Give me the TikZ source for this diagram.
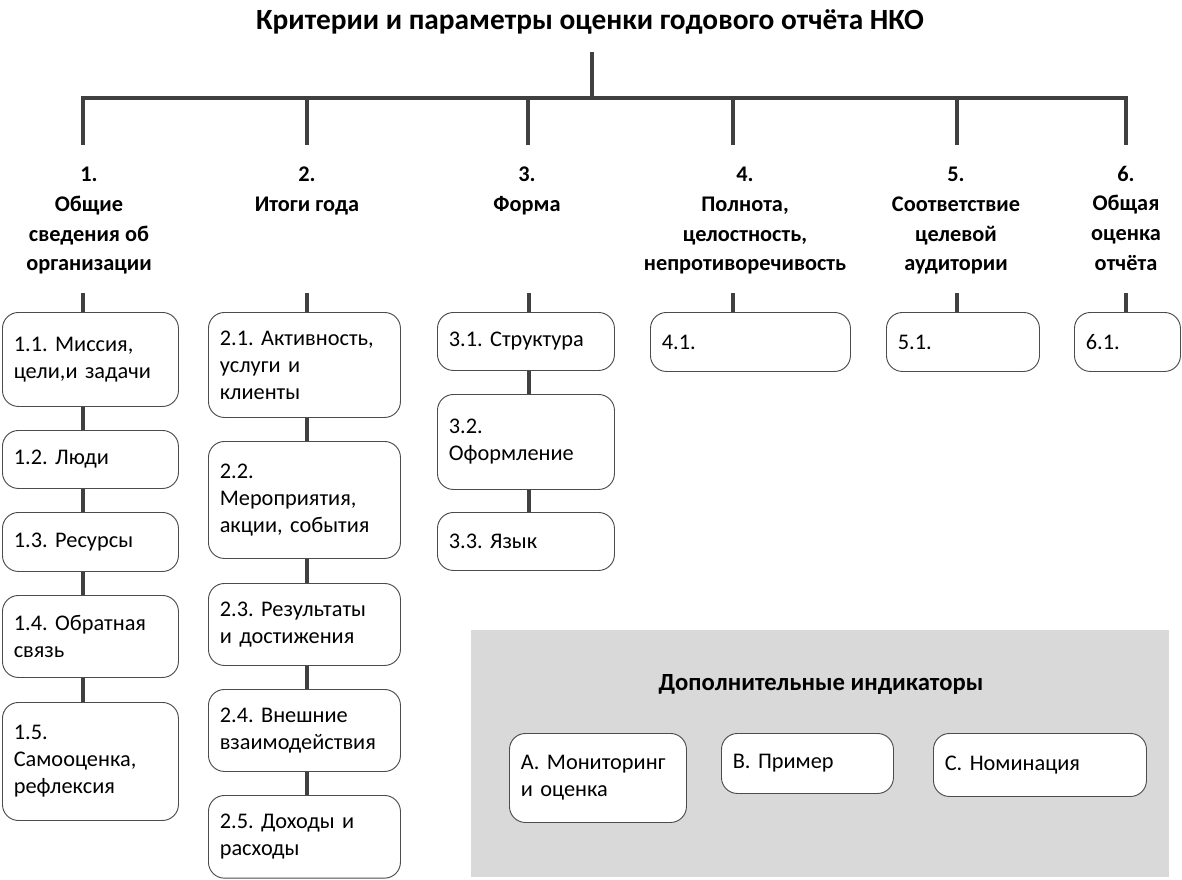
\documentclass[tikz,border=0pt]{standalone}
\usepackage{fontspec}
\setmainfont{Carlito}
\frenchspacing
\begin{document}
\begin{tikzpicture}[x=0.75pt,y=-0.75pt,
  conn/.style={draw=black!75,line width=3.5pt},
  bx/.style={draw=black!70,line width=0.7pt,fill=white,rounded corners=12pt,
    anchor=north west,inner xsep=8.5pt,inner ysep=0pt,align=left,
    font=\fontsize{16.75}{20.25}\selectfont\frenchspacing},
  head/.style={anchor=north,inner sep=0pt,align=center,
    font=\fontsize{16.75}{22.25}\selectfont\bfseries},
  panel/.style={fill=black!15,draw=none}]
\useasboundingbox (0,0) rectangle (1182,879);

% title
\node[font=\fontsize{22}{26}\selectfont\bfseries] (title) at (590,22)
  {Критерии и параметры оценки годового отчёта НКО};

% headings
\node[head] (h1) at (89,167) {1.\\Общие\\сведения об\\организации};
\node[head] (h2) at (307,167) {2.\\Итоги года};
\node[head] (h3) at (527,167) {3.\\Форма};
\node[head] (h4) at (745,167) {4.\\Полнота,\\целостность,\\непротиворечивость};
\node[head] (h5) at (956,167) {5.\\Соответствие\\целевой\\аудитории};
\node[head] (h6) at (1126,165.5) {6.\\Общая\\оценка\\отчёта};

% coordinates of tree
\coordinate (rtop) at (592,52);
\coordinate (rbot) at (592,98);
\coordinate (d1) at (83,145);
\coordinate (d2) at (307,145);
\coordinate (d3) at (528,145);
\coordinate (d4) at (733,145);
\coordinate (d5) at (957,145);
\coordinate (d6) at (1126,145);
\coordinate (u1) at (83,293);
\coordinate (u2) at (307,293);
\coordinate (u3) at (529,293);
\coordinate (u4) at (733,293);
\coordinate (u5) at (957,293);
\coordinate (u6) at (1126,293);

% column 1
\node[bx,minimum width=132pt,minimum height=70.5pt,text width=115pt] (b11) at (2,312) {1.1. Миссия,\\цели,и задачи};
\node[bx,minimum width=132pt,minimum height=43.5pt,text width=115pt] (b12) at (2,430) {1.2. Люди};
\node[bx,minimum width=132pt,minimum height=44.25pt,text width=115pt] (b13) at (2,512) {1.3. Ресурсы};
\node[bx,minimum width=132pt,minimum height=61.5pt,text width=115pt] (b14) at (2,595) {1.4. Обратная\\связь};
\node[bx,minimum width=132pt,minimum height=88.5pt,text width=115pt] (b15) at (2,702) {1.5.\\Самооценка,\\рефлексия};

% column 2
\node[bx,minimum width=144pt,minimum height=78.75pt,text width=127pt] (b21) at (208,312) {2.1. Активность,\\услуги и\\клиенты};
\node[bx,minimum width=144pt,minimum height=87.75pt,text width=127pt] (b22) at (208,441) {2.2.\\Мероприятия,\\акции, события};
\node[bx,minimum width=144pt,minimum height=61.5pt,text width=127pt] (b23) at (208,583) {2.3. Результаты\\и достижения};
\node[bx,minimum width=144pt,minimum height=61.5pt,text width=127pt] (b24) at (208,689) {2.4. Внешние\\взаимодействия};
\node[bx,minimum width=144pt,minimum height=62pt,text width=127pt] (b25) at (208,795) {2.5. Доходы и\\расходы};

% column 3
\node[bx,minimum width=132.75pt,minimum height=43.5pt,text width=115.75pt] (b31) at (437,312) {3.1. Структура};
\node[bx,minimum width=132.75pt,minimum height=71.25pt,text width=115.75pt] (b32) at (437,394) {3.2.\\Оформление};
\node[bx,minimum width=132.75pt,minimum height=43.5pt,text width=115.75pt] (b33) at (437,512) {3.3. Язык};

% columns 4-6
\node[bx,minimum width=150pt,minimum height=44.25pt,text width=133pt] (b41) at (650,312) {4.1.};
\node[bx,minimum width=114.75pt,minimum height=44.25pt,text width=97.75pt] (b51) at (886,312) {5.1.};
\node[bx,minimum width=79.5pt,minimum height=44.25pt,text width=62.5pt] (b61) at (1074,312) {6.1.};

% connectors
\draw[conn] (rtop) -- (rbot);
\draw[conn] (d1) -- (d1 |- rbot) -- (d6 |- rbot) -- (d6);
\foreach \d in {d2,d3,d4,d5} \draw[conn] (\d |- rbot) -- (\d);
\draw[conn] (u1) -- (u1 |- b11.north);
\draw[conn] (u1 |- b11.south) -- (u1 |- b12.north);
\draw[conn] (u1 |- b12.south) -- (u1 |- b13.north);
\draw[conn] (u1 |- b13.south) -- (u1 |- b14.north);
\draw[conn] (u1 |- b14.south) -- (u1 |- b15.north);
\draw[conn] (u2) -- (u2 |- b21.north);
\draw[conn] (u2 |- b21.south) -- (u2 |- b22.north);
\draw[conn] (u2 |- b22.south) -- (u2 |- b23.north);
\draw[conn] (u2 |- b23.south) -- (u2 |- b24.north);
\draw[conn] (u2 |- b24.south) -- (u2 |- b25.north);
\draw[conn] (u3) -- (u3 |- b31.north);
\draw[conn] (u3 |- b31.south) -- (u3 |- b32.north);
\draw[conn] (u3 |- b32.south) -- (u3 |- b33.north);
\draw[conn] (u4) -- (u4 |- b41.north);
\draw[conn] (u5) -- (u5 |- b51.north);
\draw[conn] (u6) -- (u6 |- b61.north);

% additional indicators panel
\fill[panel] (471,630) rectangle (1169,877);
\node[font=\fontsize{18.5}{22}\selectfont\bfseries] (ptitle) at (821,684) {Дополнительные индикаторы};
\node[bx,minimum width=132.75pt,minimum height=66.75pt,text width=115.75pt] (bA) at (509,733) {А. Мониторинг\\и оценка};
\node[bx,minimum width=129pt,minimum height=45pt,text width=112pt] (bB) at (721,733) {В. Пример};
\node[bx,minimum width=159.75pt,minimum height=47.25pt,text width=142.75pt] (bC) at (933,733) {С. Номинация};
\end{tikzpicture}
\end{document}
